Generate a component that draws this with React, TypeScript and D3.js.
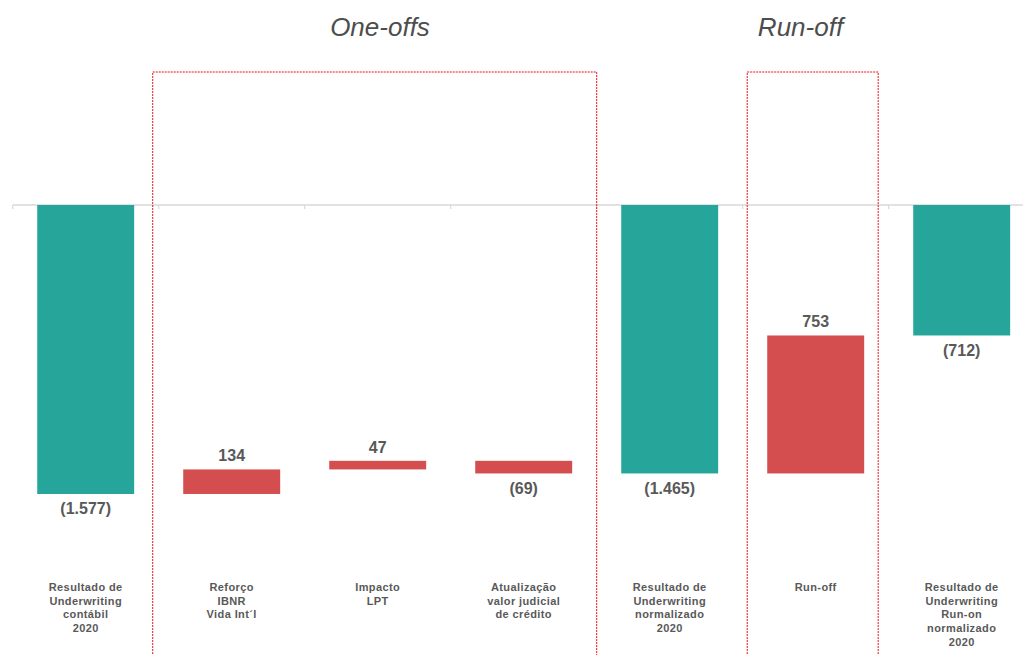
import React from "react";
import * as d3 from "d3";

// ---- data ----
const categories: string[][] = [
  ["Resultado de", "Underwriting", "contábil", "2020"],
  ["Reforço", "IBNR", "Vida Int´l"],
  ["Impacto", "LPT"],
  ["Atualização", "valor judicial", "de crédito"],
  ["Resultado de", "Underwriting", "normalizado", "2020"],
  ["Run-off"],
  ["Resultado de", "Underwriting", "Run-on", "normalizado", "2020"],
];
const values: number[] = [-1577, 134, 47, -69, -1465, 753, -712];
const kinds: string[] = ["total", "delta", "delta", "delta", "total", "delta", "total"];
const groupTitles: string[] = ["One-offs", "Run-off"];
const groupFirst: number[] = [1, 5];
const groupLast: number[] = [3, 5];

// ---- layout ----
const W = 1023;
const H = 655;
const TEAL = "#26a59a";
const RED = "#d44e4f";
const TEXT = "#595959";
const groupPadLeft = [30.5, 20];
const groupPadRight = [24.5, 14];
const groupTitleX = [380, 800.5];

const locale = d3.formatLocale({
  decimal: ",",
  thousands: ".",
  grouping: [3],
  currency: ["R$", ""],
});
const fmtN = locale.format(",.0f");
const fmt = (v: number) => (v < 0 ? `(${fmtN(-v)})` : fmtN(v));

export default function App() {
  const keys = categories.map((_, i) => String(i));
  const x = d3
    .scaleBand<string>()
    .domain(keys)
    .range([12.7, 12.7 + 146 * 7])
    .paddingInner(0.336)
    .paddingOuter(0.168);
  const y = d3.scaleLinear().domain([0, -1600]).range([205, 205 + 1600 * 0.18325]);

  // running waterfall
  let run = 0;
  const bars = values.map((v, i) => {
    let start: number, end: number;
    if (kinds[i] === "total") {
      start = 0;
      end = v;
      run = v;
    } else {
      start = run;
      end = run + v;
      run = end;
    }
    const top = y(Math.max(start, end));
    const bottom = y(Math.min(start, end));
    return { i, v, start, end, top, bottom, kind: kinds[i] };
  });

  const step = x.step();
  const x0 = x.range()[0];
  const ticks = d3.range(0, categories.length + 1).map((i) => x0 + i * step);

  return (
    <svg
      width={W}
      height={H}
      style={{ position: "absolute", left: 0, top: 0, background: "#fff" }}
      fontFamily="'Liberation Sans', Arial, sans-serif"
    >
      {/* gridline */}
      <line x1={12.7} x2={W} y1={y(0)} y2={y(0)} stroke="#d9d9d9" strokeWidth={1.5} />
      {ticks.map((t, i) => (
        <line key={i} x1={t} x2={t} y1={y(0)} y2={y(0) + 4} stroke="#d9d9d9" strokeWidth={1.2} />
      ))}

      {/* bars */}
      {bars.map((b) => (
        <rect
          key={b.i}
          x={x(String(b.i))}
          y={b.top}
          width={x.bandwidth()}
          height={Math.max(1, b.bottom - b.top)}
          fill={b.kind === "total" ? TEAL : RED}
        />
      ))}

      {/* value labels */}
      {bars.map((b) => {
        const cx = (x(String(b.i)) as number) + x.bandwidth() / 2;
        const above = b.kind === "delta" && b.v > 0;
        const ty = above ? b.top - 8.3 : b.bottom + 20.5;
        return (
          <text
            key={b.i}
            x={cx}
            y={ty}
            textAnchor="middle"
            fontSize={16}
            fontWeight="bold"
            fill={TEXT}
          >
            {fmt(b.v)}
          </text>
        );
      })}

      {/* category labels */}
      {categories.map((lines, i) => {
        const cx = (x(String(i)) as number) + x.bandwidth() / 2;
        return (
          <text
            key={i}
            x={cx}
            y={591}
            textAnchor="middle"
            fontSize={11}
            fontWeight="bold"
            fill={TEXT}
            letterSpacing={0.4}
          >
            {lines.map((l, j) => (
              <tspan key={j} x={cx} dy={j === 0 ? 0 : 13.7}>
                {l}
              </tspan>
            ))}
          </text>
        );
      })}

      {/* group boxes */}
      {groupTitles.map((t, g) => {
        const left = (x(String(groupFirst[g])) as number) - groupPadLeft[g];
        const right = (x(String(groupLast[g])) as number) + x.bandwidth() + groupPadRight[g];
        const top = 72;
        return (
          <g key={g}>
            <path
              d={`M${left},${H + 5} L${left},${top} L${right},${top} L${right},${H + 5}`}
              fill="none"
              stroke="#e8141b"
              strokeWidth={1}
              strokeDasharray="2,1"
            />
            <text
              x={groupTitleX[g]}
              y={36}
              textAnchor="middle"
              fontSize={26}
              fontStyle="italic"
              fill="#4d4d4d"
            >
              {t}
            </text>
          </g>
        );
      })}
    </svg>
  );
}
